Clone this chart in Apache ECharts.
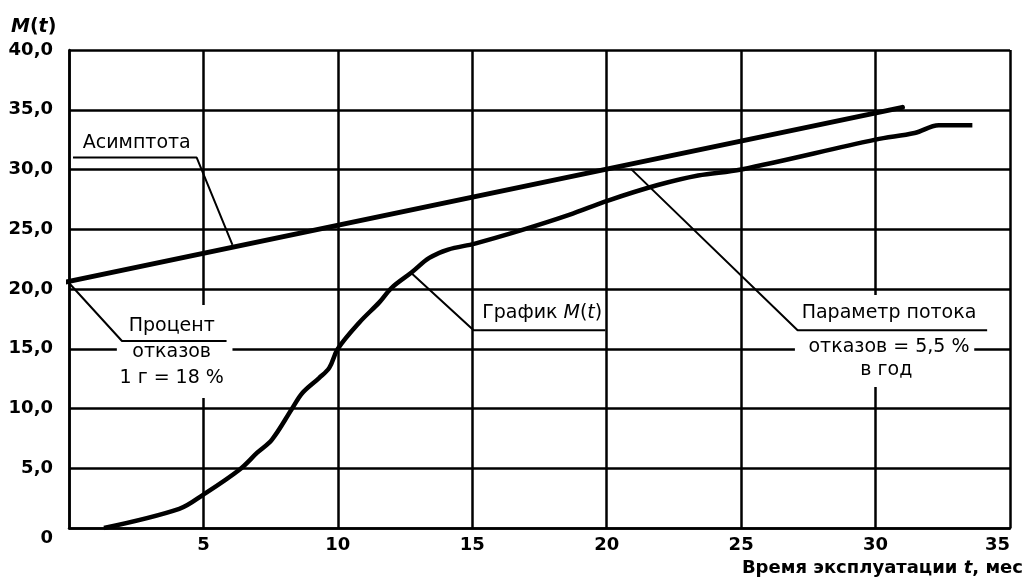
<!DOCTYPE html>
<html>
<head>
<meta charset="utf-8">
<script src="https://cdn.jsdelivr.net/npm/echarts@6/dist/echarts.min.js"></script>
<style>
    html, body {margin: 0; padding: 0; background: #fff;}
    #chart {width: 1027px; height: 581px;}
</style>
</head>
<body>
<div id="chart"></div>
<script>
// M(t) curve (t in months, M in %)
var curveT = [1.3, 4.1, 5.0, 6.35, 7.0, 7.55, 8.3, 8.68, 9.3, 9.68, 10.0, 10.8, 11.55, 12.0, 12.75, 13.4, 14.1, 15.1, 16.8, 18.6, 20.05, 21.9, 23.4, 25.0, 30.0, 31.45, 32.35, 33.6];
var curveM = [0, 1.6, 2.8, 4.9, 6.3, 7.4, 10.0, 11.3, 12.55, 13.4, 15.0, 17.2, 18.9, 20.1, 21.4, 22.6, 23.3, 23.8, 24.9, 26.2, 27.4, 28.7, 29.5, 30.0, 32.5, 33.05, 33.7, 33.7];

// asymptote end points
var asymptoteT = [-0.3, 31.0];
var asymptoteM = [20.5, 35.2];

// axes
var xMin = 0, xMax = 35, xStep = 5;
var yMin = 0, yMax = 40, yStep = 5;

// callouts: leader line points and text lines (data coordinates)
var leaders = [
    [[0.15, 31.0], [4.75, 31.0], [6.08, 23.7]],
    [[0, 20.5], [1.97, 15.65], [5.86, 15.65]],
    [[12.75, 21.3], [15.05, 16.55], [19.95, 16.55]],
    [[20.9, 30.05], [27.1, 16.55], [34.15, 16.55]]
];
var notes = [
    {text: 'Асимптота', at: [2.52, 32.2]},
    {text: 'Процент', at: [3.82, 16.9]},
    {text: 'отказов', at: [3.82, 14.73]},
    {text: '1 г = 18 %', at: [3.82, 12.55]},
    {text: '{n|График }{i|M}{n|(}{i|t}{n|)}', at: [17.6, 18.0]},
    {text: 'Параметр потока', at: [30.5, 18.0]},
    {text: 'отказов = 5,5 %', at: [30.5, 15.15]},
    {text: 'в год', at: [30.4, 13.2]}
];
// white patches that break the grid behind the text blocks
var patches = [
    [[1.78, 18.66], [6.08, 10.88]],
    [[27.0, 19.5], [33.67, 11.8]]
];

var font = '"DejaVu Sans", sans-serif';

var curveData = curveT.map(function (t, i) { return [t, curveM[i]]; });
var asymptoteData = asymptoteT.map(function (t, i) { return [t, asymptoteM[i]]; });

var series = [
    {
        name: 'M(t)',
        type: 'line',
        data: curveData,
        smooth: 0.35,
        showSymbol: false,
        lineStyle: {color: '#000', width: 4.5},
        z: 5
    },
    {
        name: 'Асимптота',
        type: 'line',
        data: asymptoteData,
        showSymbol: false,
        clip: false,
        lineStyle: {color: '#000', width: 5, cap: 'round'},
        z: 5
    }
];
leaders.forEach(function (pts) {
    series.push({
        type: 'line',
        data: pts,
        showSymbol: false,
        silent: true,
        clip: false,
        lineStyle: {color: '#000', width: 2},
        z: 20
    });
});

var chart = echarts.init(document.getElementById('chart'));
chart.setOption({
    animation: false,
    backgroundColor: '#fff',
    grid: {left: 69, right: 17, top: 50, bottom: 53},
    xAxis: {
        type: 'value',
        min: xMin,
        max: xMax,
        interval: xStep,
        axisLine: {show: true, lineStyle: {color: '#000', width: 2.5}},
        axisTick: {show: false},
        splitLine: {show: true, lineStyle: {color: '#000', width: 2.5}},
        axisLabel: {
            color: '#000',
            fontFamily: font,
            fontWeight: 'bold',
            fontSize: 18,
            margin: 8,
            alignMaxLabel: 'right',
            formatter: function (v) { return v === 0 ? '' : String(v); }
        }
    },
    yAxis: {
        type: 'value',
        min: yMin,
        max: yMax,
        interval: yStep,
        axisLine: {show: true, lineStyle: {color: '#000', width: 2.5}},
        axisTick: {show: false},
        splitLine: {show: true, lineStyle: {color: '#000', width: 2.5}},
        axisLabel: {
            color: '#000',
            fontFamily: font,
            fontWeight: 'bold',
            fontSize: 18,
            margin: 16,
            formatter: function (v) {
                return v === 0 ? '{z|0}' : v.toFixed(1).replace('.', ',');
            },
            rich: {
                z: {fontFamily: font, fontWeight: 'bold', fontSize: 18, color: '#000', padding: [20, 0, 0, 0]}
            }
        }
    },
    series: series
});

// callout texts and patches placed through the grid's own scales
var graphics = [];
patches.forEach(function (p) {
    var a = chart.convertToPixel({gridIndex: 0}, p[0]);
    var b = chart.convertToPixel({gridIndex: 0}, p[1]);
    graphics.push({
        type: 'rect',
        shape: {x: a[0], y: a[1], width: b[0] - a[0], height: b[1] - a[1]},
        style: {fill: '#fff'},
        z: 10
    });
});
notes.forEach(function (n) {
    var p = chart.convertToPixel({gridIndex: 0}, n.at);
    graphics.push({
        type: 'text',
        x: p[0],
        y: p[1],
        z: 30,
        style: {
            text: n.text,
            fill: '#000',
            font: '19px ' + font,
            align: 'center',
            verticalAlign: 'middle',
            rich: {
                n: {fontFamily: font, fontSize: 19, fill: '#000', color: '#000'},
                i: {fontFamily: font, fontSize: 19, fontStyle: 'italic', color: '#000'}
            }
        }
    });
});
graphics.push({
    type: 'text',
    x: 11,
    y: 27,
    z: 30,
    style: {
        text: '{i|M}{b|(}{i|t}{b|)}',
        verticalAlign: 'middle',
        rich: {
            i: {fontFamily: font, fontSize: 19, fontWeight: 'bold', fontStyle: 'italic', color: '#000'},
            b: {fontFamily: font, fontSize: 19, fontWeight: 'bold', color: '#000'}
        }
    }
});
graphics.push({
    type: 'text',
    x: 1023,
    y: 568,
    z: 30,
    style: {
        text: '{b|Время эксплуатации }{i|t}{b|, мес}',
        align: 'right',
        verticalAlign: 'middle',
        rich: {
            i: {fontFamily: font, fontSize: 18, fontWeight: 'bold', fontStyle: 'italic', color: '#000'},
            b: {fontFamily: font, fontSize: 18, fontWeight: 'bold', color: '#000'}
        }
    }
});
chart.setOption({graphic: {elements: graphics}});
</script>
</body>
</html>
